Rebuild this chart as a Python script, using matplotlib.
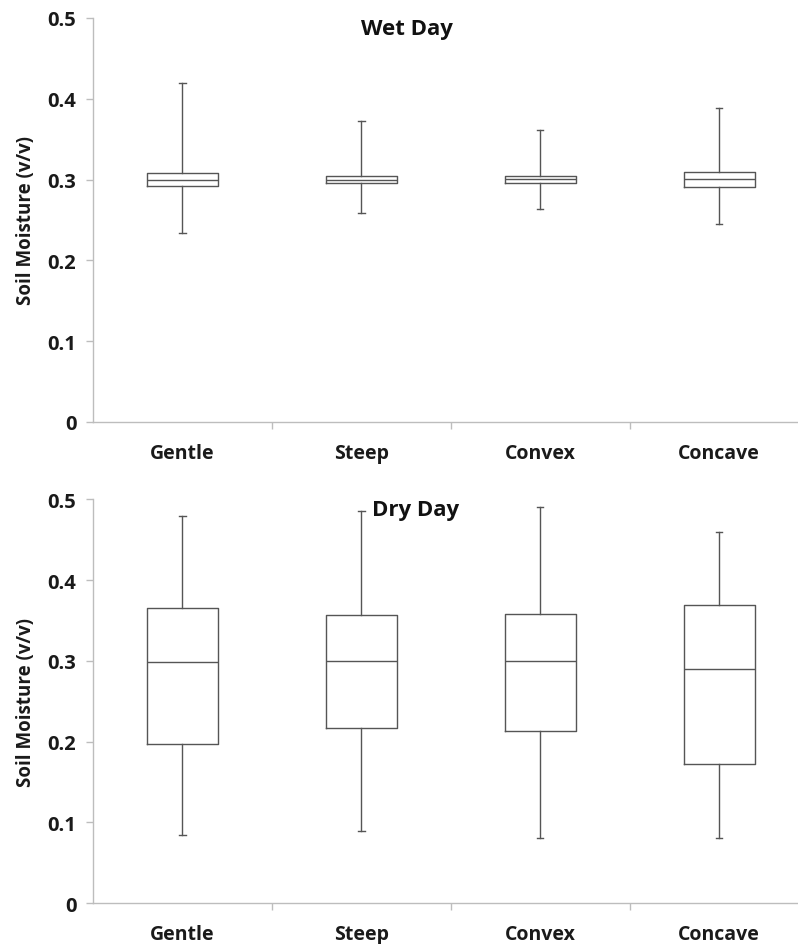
import matplotlib
matplotlib.use("Agg")
import matplotlib.pyplot as plt

plt.rcParams['font.family'] = ['Open Sans', 'DejaVu Sans']
plt.rcParams['font.weight'] = 'bold'

categories = ["Gentle", "Steep", "Convex", "Concave"]

# wet day box statistics (v/v)
wet_low = [0.234, 0.259, 0.264, 0.245]
wet_q1 = [0.292, 0.296, 0.296, 0.291]
wet_med = [0.300, 0.300, 0.301, 0.301]
wet_q3 = [0.308, 0.305, 0.304, 0.309]
wet_high = [0.419, 0.372, 0.361, 0.389]

# dry day box statistics (v/v)
dry_low = [0.084, 0.090, 0.081, 0.081]
dry_q1 = [0.197, 0.217, 0.213, 0.172]
dry_med = [0.298, 0.300, 0.300, 0.290]
dry_q3 = [0.366, 0.357, 0.358, 0.369]
dry_high = [0.479, 0.486, 0.490, 0.459]

panel_titles = ["Wet Day", "Dry Day"]
yticks = [0, 0.1, 0.2, 0.3, 0.4, 0.5]
ytick_labels = ["0", "0.1", "0.2", "0.3", "0.4", "0.5"]

AXIS_COLOR = "#bdbdbd"
LINE_COLOR = "#555555"


def make_stats(low, q1, med, q3, high):
    return [dict(label=c, whislo=a, q1=b, med=m, q3=d, whishi=e)
            for c, a, b, m, d, e in zip(categories, low, q1, med, q3, high)]


def draw_panel(ax, stats, title, title_x):
    ax.bxp(stats, positions=range(1, len(stats) + 1), widths=0.4,
           showfliers=False, capwidths=0.035,
           boxprops=dict(color=LINE_COLOR, linewidth=1.0),
           medianprops=dict(color=LINE_COLOR, linewidth=1.0),
           whiskerprops=dict(color=LINE_COLOR, linewidth=1.0),
           capprops=dict(color=LINE_COLOR, linewidth=1.0))
    ax.set_xlim(0.5, 4.5)
    ax.set_ylim(0, 0.5)
    for side in ("top", "right"):
        ax.spines[side].set_visible(False)
    for side in ("left", "bottom"):
        ax.spines[side].set_color(AXIS_COLOR)
        ax.spines[side].set_linewidth(1.0)
    ax.set_yticks(yticks)
    ax.set_yticklabels(ytick_labels)
    ax.tick_params(axis="y", colors=AXIS_COLOR, labelcolor="#1a1a1a",
                   labelsize=14.5, length=5, width=1, pad=7)
    ax.set_xticks(range(1, 5))
    ax.set_xticklabels(categories)
    ax.set_xticks([1.5, 2.5, 3.5, 4.5], minor=True)
    ax.tick_params(axis="x", which="major", length=0, labelsize=14,
                   labelcolor="#1a1a1a", pad=15)
    ax.tick_params(axis="x", which="minor", length=5, width=1,
                   colors=AXIS_COLOR)
    for lab in ax.get_xticklabels() + ax.get_yticklabels():
        lab.set_fontweight("bold")
    ax.set_ylabel("Soil Moisture (v/v)", fontsize=13.5, fontweight="bold",
                  color="#1a1a1a", labelpad=8)
    ax.text(title_x, 0.975, title, transform=ax.transAxes, ha="center",
            va="center", fontsize=16, fontweight="bold", color="#111111")


fig = plt.figure(figsize=(7.98, 9.45), dpi=100)
ax_wet = fig.add_axes([0.1165, 0.5524, 0.897, 0.4275])
ax_dry = fig.add_axes([0.1165, 0.0431, 0.897, 0.4275])

draw_panel(ax_wet, make_stats(wet_low, wet_q1, wet_med, wet_q3, wet_high),
           panel_titles[0], 0.4385)
draw_panel(ax_dry, make_stats(dry_low, dry_q1, dry_med, dry_q3, dry_high),
           panel_titles[1], 0.451)

fig.savefig("out.png", dpi=100)
